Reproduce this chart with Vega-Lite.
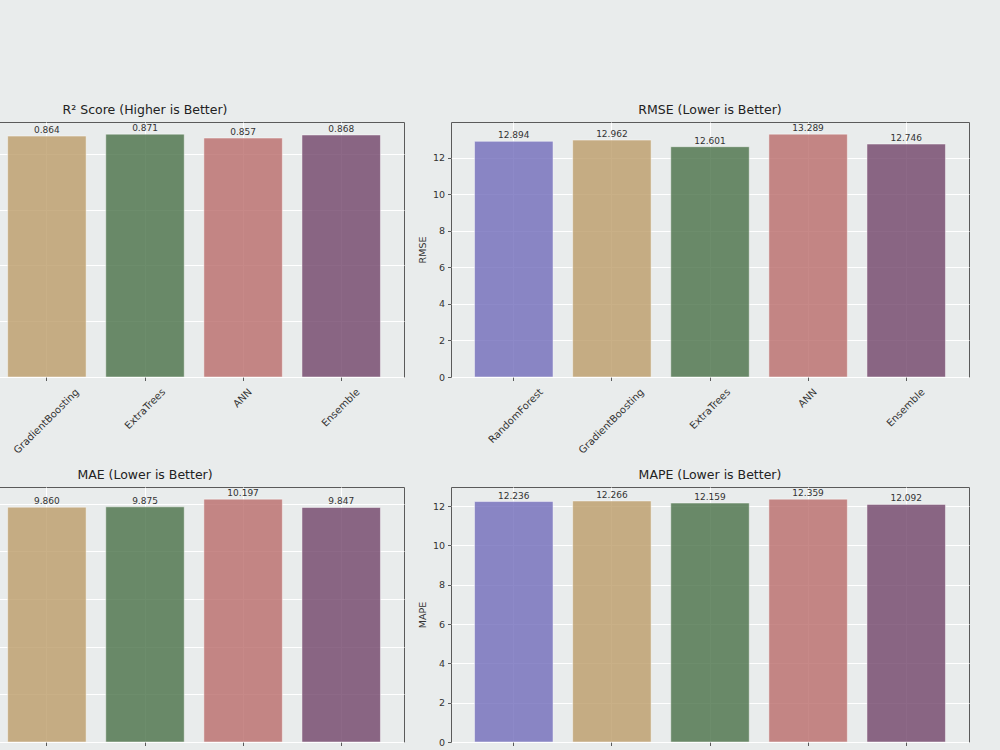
{
  "$schema": "https://vega.github.io/schema/vega-lite/v6.json",
  "background": "#e9ecec",
  "padding": {"left": -152, "top": 103, "right": 40, "bottom": 0},
  "datasets": {
    "scores": [
      {"metric": "R2", "model": "GradientBoosting", "value": 0.864},
      {"metric": "R2", "model": "ExtraTrees", "value": 0.871},
      {"metric": "R2", "model": "ANN", "value": 0.857},
      {"metric": "R2", "model": "Ensemble", "value": 0.868},
      {"metric": "RMSE", "model": "RandomForest", "value": 12.894},
      {"metric": "RMSE", "model": "GradientBoosting", "value": 12.962},
      {"metric": "RMSE", "model": "ExtraTrees", "value": 12.601},
      {"metric": "RMSE", "model": "ANN", "value": 13.289},
      {"metric": "RMSE", "model": "Ensemble", "value": 12.746},
      {"metric": "MAE", "model": "GradientBoosting", "value": 9.860},
      {"metric": "MAE", "model": "ExtraTrees", "value": 9.875},
      {"metric": "MAE", "model": "ANN", "value": 10.197},
      {"metric": "MAE", "model": "Ensemble", "value": 9.847},
      {"metric": "MAPE", "model": "RandomForest", "value": 12.236},
      {"metric": "MAPE", "model": "GradientBoosting", "value": 12.266},
      {"metric": "MAPE", "model": "ExtraTrees", "value": 12.159},
      {"metric": "MAPE", "model": "ANN", "value": 12.359},
      {"metric": "MAPE", "model": "Ensemble", "value": 12.092}
    ]
  },
  "config": {
    "font": "DejaVu Sans",
    "view": {"stroke": "#5a5a5a", "strokeWidth": 1},
    "axis": {
      "domain": false,
      "tickColor": "#5a5a5a",
      "tickSize": 3.5,
      "labelColor": "#333333",
      "labelFontSize": 9.5,
      "labelPadding": 3,
      "gridColor": "#ffffff",
      "gridWidth": 1,
      "gridOpacity": 1,
      "titleFontSize": 9.5,
      "titleFontWeight": "normal",
      "titleColor": "#333333",
      "titlePadding": 5
    },
    "axisX": {
      "grid": true,
      "bandPosition": 0.5,
      "labelAngle": -45,
      "labelAlign": "right",
      "labelBaseline": "top",
      "labelFontSize": 10,
      "labelPadding": 6,
      "labelOffset": {"expr": "3.54*((datum.label==='RandomForest'?7.89:datum.label==='GradientBoosting'?8.72:datum.label==='ExtraTrees'?5.41:datum.label==='ANN'?2.18:4.9)-1.1)"}
    },
    "title": {"fontSize": 12.5, "fontWeight": "normal", "color": "#222222", "offset": 6}
  },
  "columns": 2,
  "spacing": {"column": 11, "row": 12},
  "concat": [
    {
      "title": "R² Score (Higher is Better)",
      "width": 518, "height": 255,
      "data": {"name": "scores"},
      "transform": [{"filter": "datum.metric === 'R2'"}],
      "encoding": {
        "x": {
          "field": "model", "type": "nominal", "title": null,
          "scale": {"domain": ["RandomForest", "GradientBoosting", "ExtraTrees", "ANN", "Ensemble"], "paddingInner": 0.2, "paddingOuter": 0.24}
        },
        "y": {
          "field": "value", "type": "quantitative", "title": "R² Score",
          "scale": {"domain": [0, 0.9146], "nice": false},
          "axis": {"values": [0, 0.2, 0.4, 0.6, 0.8], "format": ".1f"}
        }
      },
      "layer": [
        {
          "mark": {"type": "bar", "fillOpacity": 0.8, "stroke": "#ffffff", "strokeOpacity": 0.45, "strokeWidth": 1},
          "encoding": {"color": {"field": "model", "type": "nominal", "legend": null,
            "scale": {"domain": ["RandomForest", "GradientBoosting", "ExtraTrees", "ANN", "Ensemble"], "range": ["#706cba", "#bb9c69", "#487047", "#b96b6a", "#714469"]}}}
        },
        {
          "mark": {"type": "text", "baseline": "alphabetic", "dy": -3, "fontSize": 9, "color": "#333333"},
          "encoding": {"text": {"field": "value", "type": "quantitative", "format": ".3f"}}
        }
      ]
    },
    {
      "title": "RMSE (Lower is Better)",
      "width": 518, "height": 255,
      "data": {"name": "scores"},
      "transform": [{"filter": "datum.metric === 'RMSE'"}],
      "encoding": {
        "x": {
          "field": "model", "type": "nominal", "title": null,
          "scale": {"domain": ["RandomForest", "GradientBoosting", "ExtraTrees", "ANN", "Ensemble"], "paddingInner": 0.2, "paddingOuter": 0.24}
        },
        "y": {
          "field": "value", "type": "quantitative", "title": "RMSE",
          "scale": {"domain": [0, 13.953], "nice": false},
          "axis": {"values": [0, 2, 4, 6, 8, 10, 12], "format": "d"}
        }
      },
      "layer": [
        {
          "mark": {"type": "bar", "fillOpacity": 0.8, "stroke": "#ffffff", "strokeOpacity": 0.45, "strokeWidth": 1},
          "encoding": {"color": {"field": "model", "type": "nominal", "legend": null,
            "scale": {"domain": ["RandomForest", "GradientBoosting", "ExtraTrees", "ANN", "Ensemble"], "range": ["#706cba", "#bb9c69", "#487047", "#b96b6a", "#714469"]}}}
        },
        {
          "mark": {"type": "text", "baseline": "alphabetic", "dy": -3, "fontSize": 9, "color": "#333333"},
          "encoding": {"text": {"field": "value", "type": "quantitative", "format": ".3f"}}
        }
      ]
    },
    {
      "title": "MAE (Lower is Better)",
      "width": 518, "height": 255,
      "data": {"name": "scores"},
      "transform": [{"filter": "datum.metric === 'MAE'"}],
      "encoding": {
        "x": {
          "field": "model", "type": "nominal", "title": null,
          "scale": {"domain": ["RandomForest", "GradientBoosting", "ExtraTrees", "ANN", "Ensemble"], "paddingInner": 0.2, "paddingOuter": 0.24}
        },
        "y": {
          "field": "value", "type": "quantitative", "title": "MAE",
          "scale": {"domain": [0, 10.707], "nice": false},
          "axis": {"values": [0, 2, 4, 6, 8, 10], "format": "d"}
        }
      },
      "layer": [
        {
          "mark": {"type": "bar", "fillOpacity": 0.8, "stroke": "#ffffff", "strokeOpacity": 0.45, "strokeWidth": 1},
          "encoding": {"color": {"field": "model", "type": "nominal", "legend": null,
            "scale": {"domain": ["RandomForest", "GradientBoosting", "ExtraTrees", "ANN", "Ensemble"], "range": ["#706cba", "#bb9c69", "#487047", "#b96b6a", "#714469"]}}}
        },
        {
          "mark": {"type": "text", "baseline": "alphabetic", "dy": -3, "fontSize": 9, "color": "#333333"},
          "encoding": {"text": {"field": "value", "type": "quantitative", "format": ".3f"}}
        }
      ]
    },
    {
      "title": "MAPE (Lower is Better)",
      "width": 518, "height": 255,
      "data": {"name": "scores"},
      "transform": [{"filter": "datum.metric === 'MAPE'"}],
      "encoding": {
        "x": {
          "field": "model", "type": "nominal", "title": null,
          "scale": {"domain": ["RandomForest", "GradientBoosting", "ExtraTrees", "ANN", "Ensemble"], "paddingInner": 0.2, "paddingOuter": 0.24}
        },
        "y": {
          "field": "value", "type": "quantitative", "title": "MAPE",
          "scale": {"domain": [0, 12.977], "nice": false},
          "axis": {"values": [0, 2, 4, 6, 8, 10, 12], "format": "d"}
        }
      },
      "layer": [
        {
          "mark": {"type": "bar", "fillOpacity": 0.8, "stroke": "#ffffff", "strokeOpacity": 0.45, "strokeWidth": 1},
          "encoding": {"color": {"field": "model", "type": "nominal", "legend": null,
            "scale": {"domain": ["RandomForest", "GradientBoosting", "ExtraTrees", "ANN", "Ensemble"], "range": ["#706cba", "#bb9c69", "#487047", "#b96b6a", "#714469"]}}}
        },
        {
          "mark": {"type": "text", "baseline": "alphabetic", "dy": -3, "fontSize": 9, "color": "#333333"},
          "encoding": {"text": {"field": "value", "type": "quantitative", "format": ".3f"}}
        }
      ]
    }
  ]
}
